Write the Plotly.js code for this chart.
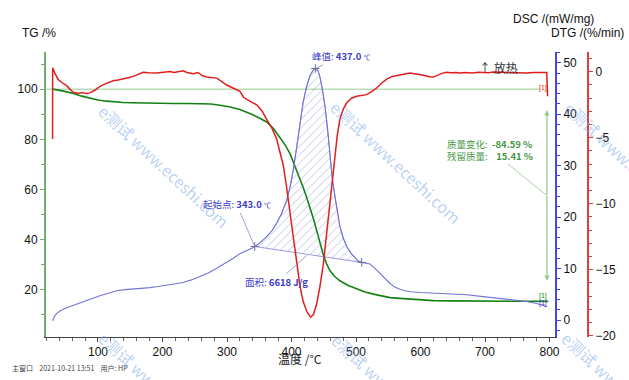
<!DOCTYPE html>
<html>
<head>
<meta charset="utf-8">
<script src="https://cdn.plot.ly/plotly-3.0.1.min.js"></script>
<style>html,body{margin:0;padding:0;background:#fff}#chart{width:629px;height:380px}</style>
</head>
<body>
<div id="chart"></div>
<script>
// ---------------- DATA ----------------
const tgT = [29.7, 38, 45, 53, 61.7, 75, 87.6, 100, 113.5, 126, 139, 152, 165, 190, 216.7, 240, 258, 275, 289, 305, 320, 330, 340, 350, 361.5, 372, 382, 390, 397.7, 403, 408, 413, 418, 423, 428.7, 434, 439, 444, 449, 454, 459.7, 467, 475, 488, 501, 514, 527, 540, 552.7, 568, 584, 600, 620, 650, 680, 723, 760, 798];
const tg  = [100.0, 99.7, 99.3, 98.8, 98.3, 97.2, 96.3, 95.7, 95.2, 94.9, 94.7, 94.6, 94.5, 94.4, 94.3, 94.3, 94.3, 94.1, 93.6, 92.9, 91.9, 91.0, 89.8, 88.5, 86.9, 84.3, 80.9, 77.8, 74.3, 71.0, 67.6, 64.3, 60.9, 57.2, 52.9, 48.3, 43.6, 38.8, 34.3, 30.6, 27.6, 25.3, 23.6, 21.7, 20.3, 19.1, 18.3, 17.6, 16.9, 16.6, 16.3, 16.0, 15.7, 15.6, 15.5, 15.45, 15.42, 15.41];

const dtgT = [29.6, 29.7, 33, 38.5, 45, 51.5, 57, 61.7, 68, 77, 82, 87.6, 95, 103, 112, 118, 123.7, 131, 139, 147, 154.7, 162, 170, 178, 186, 191, 198, 205, 211.6, 218, 224, 232, 238, 243, 247.8, 255, 262, 268.5, 276, 284, 291, 299.5, 310, 320, 326, 330.5, 338, 346, 354, 361.5, 370, 377, 382, 387.3, 392, 397.7, 403, 408, 413, 418, 424, 429.8, 434, 439, 444, 449.3, 454, 459.7, 463, 467.4, 471, 475, 480, 485.6, 493, 501, 508, 516.6, 524, 532, 540, 547.6, 556, 568, 576, 583.7, 590, 594, 600, 608, 614, 620, 626, 633, 640.6, 648, 655, 661, 670, 680, 690, 697, 705, 713, 723, 733, 743, 754, 764.6, 775, 785, 795.7, 797];
const dtg  = [-5.1, 0.3, -0.1, -0.6, -0.85, -1.05, -1.35, -1.55, -1.62, -1.58, -1.65, -1.6, -1.4, -1.1, -0.9, -0.78, -0.68, -0.62, -0.55, -0.45, -0.35, -0.2, -0.03, -0.08, -0.12, -0.1, -0.05, 0.0, 0.03, -0.05, 0.02, 0.08, -0.05, -0.12, -0.15, -0.05, -0.3, -0.4, -0.42, -0.48, -0.7, -1.0, -1.25, -1.48, -1.95, -2.1, -2.3, -2.5, -2.95, -3.6, -4.3, -5.1, -6.0, -7.1, -8.6, -10.6, -12.7, -14.6, -16.2, -17.4, -18.2, -18.6, -18.4, -17.6, -16.3, -14.6, -12.5, -10.1, -8.3, -6.4, -4.8, -3.6, -2.85, -2.35, -2.0, -1.86, -1.8, -1.73, -1.5, -1.23, -0.85, -0.55, -0.35, -0.23, -0.12, -0.1, -0.15, -0.17, -0.22, -0.3, -0.38, -0.4, -0.28, -0.12, -0.03, -0.08, -0.05, -0.1, -0.06, -0.1, -0.04, -0.05, -0.08, -0.02, -0.03, -0.07, -0.04, -0.08, -0.1, -0.05, -0.07, -0.05, -1.86];

const dscT = [29.7, 32, 36, 43, 51.5, 64, 77, 90, 103, 116, 129, 142, 154.7, 168, 180.6, 193, 206.5, 219, 232, 245, 258, 271, 284, 297, 309.8, 320, 330, 340.8, 351, 361.5, 370, 377, 385, 392.6, 398, 402.8, 408, 413, 418, 423.4, 429, 434.9, 437, 441, 444, 448, 452, 456, 459.7, 463, 467.4, 471, 475, 480, 485.6, 492, 498.4, 503, 508.8, 515, 521.7, 529, 537, 545, 552.7, 560, 568, 576, 583.7, 600, 620, 645, 671.6, 697, 723, 745, 764.6, 780, 795.7];
const dsc  = [-0.13, 0.6, 1.3, 1.9, 2.4, 3.0, 3.6, 4.15, 4.7, 5.25, 5.7, 5.9, 6.0, 6.15, 6.3, 6.5, 6.75, 7.0, 7.3, 7.8, 8.4, 9.15, 10.05, 11.0, 12.0, 12.9, 13.5, 14.1, 15.0, 16.2, 17.4, 18.8, 20.8, 23.3, 26.0, 29.2, 33.5, 38.3, 42.3, 45.4, 47.6, 48.8, 48.9, 48.5, 47.3, 44.8, 41.5, 37.0, 31.8, 27.8, 24.0, 20.8, 18.2, 16.0, 14.3, 13.0, 12.0, 11.5, 11.2, 11.05, 10.9, 10.1, 9.1, 8.0, 7.1, 6.4, 5.97, 5.7, 5.5, 5.35, 5.2, 5.05, 4.9, 4.55, 4.2, 3.9, 3.6, 3.2, 2.6];

const xTicks = [100, 200, 300, 400, 500, 600, 700, 800];
const onsetT = 343.0, peakT = 437.0, endT = 508.8;
const areaJg = 6618;
const massChange = -84.59, residual = 15.41;
const arrowTop = 91.6, arrowBottom = 23.6, arrowT = 796;

// ---------------- HELPERS ----------------
function interp(xs, ys, x) {
  for (let i = 0; i < xs.length - 1; i++) {
    if (x >= xs[i] && x <= xs[i+1]) {
      const t = (x - xs[i]) / (xs[i+1] - xs[i]);
      return ys[i] + t * (ys[i+1] - ys[i]);
    }
  }
  return ys[ys.length-1];
}
const PL = 46, PW = 542, PT = 52, PH = 285;
const px = v => (v - PL) / PW;
const py = v => (PT + PH - v) / PH;

const onsetY = interp(dscT, dsc, onsetT);
const endY = interp(dscT, dsc, endT);
const peakY = interp(dscT, dsc, peakT);

// hatch polygon
const hx = [onsetT], hy = [onsetY];
dscT.forEach((t, i) => { if (t > onsetT && t < endT) { hx.push(t); hy.push(dsc[i]); } });
hx.push(endT); hy.push(endY);
hx.push(onsetT); hy.push(onsetY);

const blueTxt = 'rgb(60,60,200)';
const greenTxt = 'rgb(70,150,70)';
const CJK = '"Noto Sans CJK SC", "Liberation Sans", Arial, sans-serif';
const SANS = 'Arial, "Liberation Sans", sans-serif';

const traces = [
  { x: tgT, y: tg, type: 'scatter', mode: 'lines', xaxis: 'x', yaxis: 'y',
    line: { color: 'rgb(20,130,20)', width: 1.6 }, hoverinfo: 'skip' },
  { x: hx, y: hy, type: 'scatter', mode: 'lines', xaxis: 'x', yaxis: 'y2',
    fill: 'toself', fillcolor: 'rgba(0,0,0,0)',
    fillpattern: { shape: '/', fgcolor: 'rgba(110,110,200,0.55)', bgcolor: 'rgba(0,0,0,0)', size: 6, solidity: 0.12 },
    line: { color: 'rgba(120,120,215,0.75)', width: 1 }, hoverinfo: 'skip' },
  { x: dscT, y: dsc, type: 'scatter', mode: 'lines', xaxis: 'x', yaxis: 'y2',
    line: { color: 'rgb(115,115,215)', width: 1.1 }, hoverinfo: 'skip' },
  { x: [onsetT, endT, peakT], y: [onsetY, endY, peakY], type: 'scatter', mode: 'markers', xaxis: 'x', yaxis: 'y2',
    marker: { symbol: 'cross-thin', size: 6, line: { color: 'rgb(110,110,140)', width: 1 } }, hoverinfo: 'skip' },
  { x: dtgT, y: dtg, type: 'scatter', mode: 'lines', xaxis: 'x', yaxis: 'y3',
    line: { color: 'rgb(225,30,30)', width: 1.5 }, hoverinfo: 'skip' }
];

const P = (x, y, xa, ya) => ({ xref: 'paper', yref: 'paper', x: px(x), y: py(y), xanchor: xa, yanchor: ya, showarrow: false });

const annotations = [
  // axis titles
  Object.assign(P(20, 33, 'left', 'middle'), { text: 'TG /%', font: { family: SANS, size: 12, color: '#111' } }),
  Object.assign(P(596, 19, 'right', 'middle'), { text: 'DSC /(mW/mg)', font: { family: SANS, size: 12, color: '#111' } }),
  Object.assign(P(626, 33, 'right', 'middle'), { text: 'DTG /(%/min)', font: { family: SANS, size: 12, color: '#111' } }),
  Object.assign(P(300, 358, 'center', 'middle'), { text: '温度 /°C', font: { family: CJK, size: 12, color: '#222' } }),
  // footer
  Object.assign(P(10, 368, 'left', 'middle'), { text: '主窗口 &nbsp;&nbsp; 2021-10-21 13:51 &nbsp;&nbsp; 用户: HP', font: { family: CJK, size: 7, color: '#444' } }),
  // peak
  { xref: 'x', yref: 'y2', x: peakT, y: peakY, ax: 26, ay: -12, showarrow: true, arrowhead: 0, arrowwidth: 1,
    arrowcolor: 'rgba(140,140,200,0.8)', standoff: 0,
    text: '峰值: <b>' + peakT.toFixed(1) + '</b> <span style="font-size:7px">℃</span>',
    font: { family: CJK, size: 9.5, color: blueTxt } },
  // onset
  { xref: 'x', yref: 'y2', x: onsetT, y: onsetY, ax: -18, ay: -42, showarrow: true, arrowhead: 0, arrowwidth: 1,
    arrowcolor: 'rgba(140,140,200,0.8)',
    text: '起始点: <b>' + onsetT.toFixed(1) + '</b> <span style="font-size:7px">℃</span>',
    font: { family: CJK, size: 9.5, color: blueTxt } },
  // area
  { xref: 'x', yref: 'y2', x: 424, y: 12.6, ax: -30, ay: 27, showarrow: true, arrowhead: 0, arrowwidth: 1,
    arrowcolor: 'rgba(140,140,200,0.8)',
    text: '面积: <b>' + areaJg + ' J/g</b>',
    font: { family: CJK, size: 9.5, color: blueTxt } },
  // mass change
  { xref: 'x', yref: 'y', x: arrowT, y: 57.6, ax: -57, ay: -46, showarrow: true, arrowhead: 0, arrowwidth: 1,
    arrowcolor: 'rgba(160,205,160,0.9)', align: 'left',
    text: '质量变化: &nbsp;<b>' + massChange.toFixed(2) + ' %</b><br>残留质量: &nbsp;&nbsp;&nbsp;<b>' + residual.toFixed(2) + ' %</b>',
    font: { family: CJK, size: 9.5, color: greenTxt } },
  // double arrow
  { xref: 'x', yref: 'y', x: arrowT, y: arrowTop, ax: 0, ay: 86, showarrow: true, arrowhead: 2, arrowsize: 0.8,
    arrowwidth: 1.3, arrowcolor: 'rgb(150,200,150)', text: '' },
  { xref: 'x', yref: 'y', x: arrowT, y: arrowBottom, ax: 0, ay: -86, showarrow: true, arrowhead: 2, arrowsize: 0.8,
    arrowwidth: 1.3, arrowcolor: 'rgb(150,200,150)', text: '' },
  // exo
  Object.assign(P(477, 68, 'left', 'middle'), { text: '↑ 放热', font: { family: CJK, size: 12, color: '#333' } }),
  // [1] markers
  Object.assign(P(543, 88, 'center', 'middle'), { text: '[1]', font: { family: SANS, size: 7, color: 'rgb(220,40,40)' } }),
  Object.assign(P(543, 296, 'center', 'middle'), { text: '[1]', font: { family: SANS, size: 7, color: 'rgb(20,130,20)' } }),
  Object.assign(P(543, 303, 'center', 'middle'), { text: '[1]', font: { family: SANS, size: 7, color: 'rgb(60,60,200)' } })
];

// watermarks
const wm = [[164,166],[396,162],[630,163],[164,393],[397,395],[627,393]];
wm.forEach(c => annotations.push(Object.assign(P(c[0], c[1], 'center', 'middle'), {
  textangle: 43, text: 'e测试 www.eceshi.com',
  font: { family: CJK, size: 16, color: 'rgba(130,170,235,0.55)' }
})));

const shapes = [
  { type: 'line', xref: 'x', yref: 'y', x0: 20, x1: 785, y0: 100, y1: 100,
    line: { color: 'rgb(185,220,180)', width: 1.5 }, layer: 'below' }
];

const tickFont = { family: SANS, size: 12, color: '#111' };
const layout = {
  width: 629, height: 380,
  margin: { l: 46, r: 41, t: 52, b: 43, pad: 0 },
  paper_bgcolor: '#fff', plot_bgcolor: 'rgba(0,0,0,0)',
  showlegend: false,
  xaxis: {
    domain: [0, 509 / 542], range: [19.4, 808.5], showgrid: false, zeroline: false,
    showline: true, linecolor: '#444', linewidth: 1, mirror: false,
    tickmode: 'array', tickvals: xTicks, ticktext: xTicks.map(String),
    ticks: 'outside', ticklen: 4, tickcolor: '#444', tickfont: tickFont,
    minor: { dtick: 20, tick0: 0, ticks: 'outside', ticklen: 3, tickcolor: '#666' }
  },
  yaxis: {
    range: [1.2, 114.8], showgrid: false, zeroline: false,
    showline: true, linecolor: 'rgb(110,175,110)', linewidth: 2,
    dtick: 20, tick0: 0, ticks: 'outside', ticklen: 4, tickcolor: 'rgb(110,175,110)', tickfont: tickFont,
    minor: { dtick: 10, tick0: 0, ticks: 'outside', ticklen: 3, tickcolor: 'rgb(110,175,110)' }
  },
  yaxis2: {
    overlaying: 'y', side: 'right', anchor: 'x',
    range: [-3.3, 52.1], showgrid: false, zeroline: false,
    showline: true, linecolor: 'rgb(70,70,235)', linewidth: 2,
    dtick: 10, tick0: 0, ticks: 'outside', ticklen: 4, tickcolor: 'rgb(70,70,235)', tickfont: tickFont,
    minor: { dtick: 2, tick0: 0, ticks: 'outside', ticklen: 3, tickcolor: 'rgb(70,70,235)' }
  },
  yaxis3: {
    overlaying: 'y', side: 'right', anchor: 'free', position: 1,
    range: [-20.1, 1.5], showgrid: false, zeroline: false,
    showline: true, linecolor: 'rgb(225,60,60)', linewidth: 2,
    dtick: 5, tick0: 0, ticks: 'outside', ticklen: 4, tickcolor: 'rgb(225,60,60)', tickfont: tickFont,
    minor: { dtick: 1, tick0: 0, ticks: 'outside', ticklen: 3, tickcolor: 'rgb(225,60,60)' }
  },
  annotations: annotations,
  shapes: shapes
};

Plotly.newPlot('chart', traces, layout, { staticPlot: true, displayModeBar: false });
</script>
</body>
</html>
